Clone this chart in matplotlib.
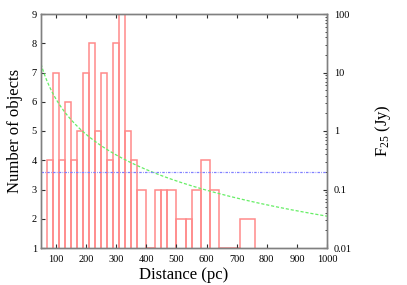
import matplotlib
matplotlib.use('Agg')
import matplotlib.pyplot as plt
from matplotlib.ticker import FixedLocator, FuncFormatter, LogLocator, NullFormatter
import numpy as np

plt.rcParams['font.family'] = ['Liberation Serif', 'DejaVu Serif']
plt.rcParams['mathtext.fontset'] = 'custom'
plt.rcParams['mathtext.rm'] = 'Liberation Serif'
plt.rcParams['mathtext.it'] = 'Liberation Serif:italic'

# Histogram bins (pc) and counts
bin_edges = [70, 90, 110, 130, 150, 170, 190, 210, 230, 250, 270, 290, 310, 330,
             350, 370, 400, 430, 450, 470, 500, 530, 550, 580, 610, 640, 710, 760]
counts = [4, 7, 4, 6, 4, 5, 7, 8, 5, 7, 4, 8, 10, 5,
          4, 3, 1, 3, 3, 3, 2, 2, 3, 4, 3, 1, 2]

# Flux limit and 1/d^2 curve
flux_limit = 0.2          # Jy
flux_at_1000pc = 0.035    # Jy, normalisation of the 1/d^2 curve

x_ticks = [100, 200, 300, 400, 500, 600, 700, 800, 900, 1000]
y_ticks = [1, 2, 3, 4, 5, 6, 7, 8, 9]
flux_ticks = [0.01, 0.1, 1, 10, 100]

fig = plt.figure(figsize=(4.07, 2.85), dpi=100)
ax = fig.add_axes([41/407, 1-248/285, (327-41)/407, (248-14)/285])

edges = np.array(bin_edges, dtype=float)
widths = np.diff(edges)
ax.bar(edges[:-1], counts, width=widths, align='edge', bottom=0,
       fill=False, edgecolor='#ff8a8a', linewidth=1.1, zorder=1)

ax.set_xlim(50, 1000)
ax.set_ylim(1, 9)
ax.xaxis.set_major_locator(FixedLocator(x_ticks))
ax.yaxis.set_major_locator(FixedLocator(y_ticks))
ax.tick_params(axis='both', direction='in', length=3, width=0.8, color='#303030',
               labelsize=7.5, top=True, right=False, pad=3)
ax.tick_params(axis='x', pad=5)
ax.set_xlabel('Distance (pc)', fontsize=12, labelpad=2)
ax.set_ylabel('Number of objects', fontsize=12, labelpad=6)
for s in ax.spines.values():
    s.set_color('#808080')
    s.set_linewidth(1.0)

ax2 = ax.twinx()
ax2.set_yscale('log')
ax2.set_ylim(0.01, 100)
d = np.linspace(50, 1000, 300)
ax2.plot(d, flux_at_1000pc * (1000.0 / d) ** 2, color='#66ee66',
         linestyle=(0, (2.5, 1.5)), linewidth=0.9)
ax2.axhline(flux_limit, color='#8080ff', linestyle=(0, (2, 1, 0.6, 1)), linewidth=0.9)
ax2.yaxis.set_major_locator(FixedLocator(flux_ticks))
ax2.yaxis.set_minor_locator(LogLocator(base=10, subs=np.arange(2, 10)))
ax2.yaxis.set_minor_formatter(NullFormatter())
ax2.yaxis.set_major_formatter(FuncFormatter(lambda v, p: ('%g' % v)))
ax2.tick_params(axis='y', which='major', direction='in', length=3, width=0.8,
                color='#303030', labelsize=7.5, pad=5)
ax2.tick_params(axis='y', which='minor', direction='in', length=1.6, width=0.6,
                color='#303030')
ax2.set_ylabel('F$_{25}$ (Jy)', fontsize=12, labelpad=15)
for s in ax2.spines.values():
    s.set_color('#808080')
    s.set_linewidth(1.0)

fig.savefig('out.png', dpi=100)
